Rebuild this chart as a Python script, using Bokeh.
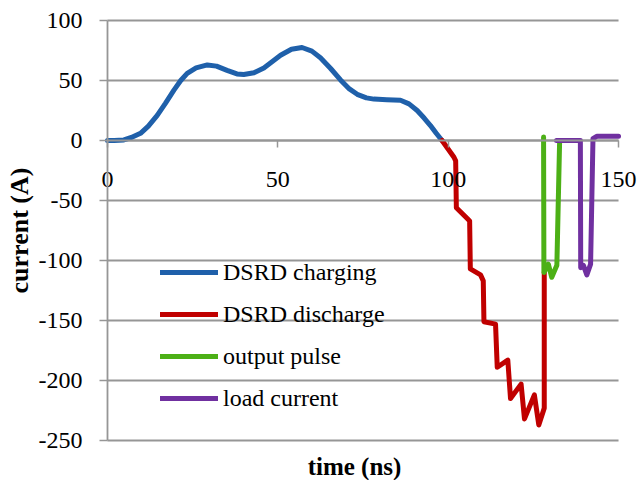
from bokeh.plotting import figure
from bokeh.models import (FixedTicker, Range1d, Legend, LegendItem, Label)
from bokeh.embed import file_html
from bokeh.resources import INLINE

# ---- data ----
t_charge = [0, 2, 4.8, 7, 9.7, 12, 14.6, 17, 19.5, 21.5, 23.4, 26, 29.3, 32, 35.1, 38, 40,
            43, 45.9, 48.5, 50.8, 54, 57.1, 60, 62.5, 65.5, 68.4, 71, 73.3, 76, 78.2, 82,
            86, 88.5, 90.9, 93, 94.8, 96.5, 98.2]
i_charge = [0, 0, 0.5, 2.5, 6, 12, 21, 31, 42, 50, 56, 60.5, 63, 62, 58.5, 55.5, 55,
            56.5, 60.5, 66, 71, 76, 77.5, 74.5, 69, 60, 50.5, 43, 38.5, 35.5, 34.5, 34,
            33.5, 30.5, 25, 18.5, 12.5, 6, 0]

t_discharge = [98.2, 101.7, 102.2, 102.4, 105.6, 106.3, 106.5, 109.5, 110.3, 110.5, 113.9,
               114.4, 117.5, 118.3, 121.4, 122.4, 125.3, 126.6, 128.2, 128.2]
i_discharge = [0, -14, -17, -56, -65, -67, -107, -112, -117, -151, -153,
               -189, -183, -215, -203, -232, -212, -237, -223, -110]

t_output = [128.0, 128.1, 129.4, 130.4, 131.9, 132.7]
i_output = [3, -110, -103, -114, -104, -2]

t_load = [131.8, 138.8, 138.9, 139.7, 140.7, 141.8, 142.5, 143.6, 150]
i_load = [0, 0, -106, -104, -112, -103, 1.5, 3.5, 3.5]

series_names = ["DSRD charging", "DSRD discharge", "output pulse", "load current"]
series_colors = ["#1f60aa", "#c00000", "#4cb016", "#7030a0"]

x_ticks = [0, 50, 100, 150]
y_ticks = [-250, -200, -150, -100, -50, 0, 50, 100]
y_tick_labels = ["-250", "-200", "-150", "-100", "-50", "0", "50", "100"]

FONT = "Liberation Serif"
GRID = "#969696"

# the frame fills the whole canvas; axes sit at x = 0 and y = 0 with bounds
p = figure(width=640, height=480, output_backend="svg", toolbar_location=None,
           x_range=Range1d(-31.4, 156.45), y_range=Range1d(-283.33, 116.67),
           min_border=0, min_border_left=0, min_border_right=0,
           min_border_top=0, min_border_bottom=0)
p.outline_line_color = None
p.background_fill_color = "white"
p.border_fill_color = "white"
p.xgrid.visible = False
p.ygrid.visible = False

# horizontal gridlines between the first and last x tick
p.segment(x0=[x_ticks[0]] * len(y_ticks), x1=[x_ticks[-1]] * len(y_ticks),
          y0=y_ticks, y1=y_ticks, line_color=GRID, line_width=1.8, level="underlay")

xa = p.xaxis[0]
xa.ticker = FixedTicker(ticks=x_ticks)
xa.fixed_location = 0
xa.bounds = (x_ticks[0], x_ticks[-1])
xa.axis_line_color = GRID
xa.axis_line_width = 1.8
xa.major_tick_line_color = GRID
xa.major_tick_line_width = 1.5
xa.major_tick_out = 7
xa.major_tick_in = 0
xa.minor_tick_line_color = None
xa.major_label_standoff = 24
xa.major_label_text_font = FONT
xa.major_label_text_font_size = "24px"
xa.major_label_text_color = "black"

ya = p.yaxis[0]
ya.ticker = FixedTicker(ticks=y_ticks)
ya.major_label_overrides = dict(zip(y_ticks, y_tick_labels))
ya.fixed_location = 0
ya.bounds = (y_ticks[0], y_ticks[-1])
ya.axis_line_color = GRID
ya.axis_line_width = 1.8
ya.major_tick_line_color = GRID
ya.major_tick_line_width = 1.5
ya.major_tick_out = 8
ya.major_tick_in = 0
ya.minor_tick_line_color = None
ya.major_label_standoff = 17
ya.major_label_text_font = FONT
ya.major_label_text_font_size = "24px"
ya.major_label_text_color = "black"
ya.axis_label = "current (A)"
ya.axis_label_text_font = FONT
ya.axis_label_text_font_size = "26px"
ya.axis_label_text_font_style = "bold"
ya.axis_label_text_color = "black"
ya.axis_label_standoff = 2

renderers = []
for t, i, c in zip([t_charge, t_discharge, t_output, t_load],
                   [i_charge, i_discharge, i_output, i_load], series_colors):
    r = p.line(t, i, line_color=c, line_width=5, line_cap="round", line_join="round")
    renderers.append(r)

legend = Legend(items=[LegendItem(label=n, renderers=[r]) for n, r in zip(series_names, renderers)],
                location=(160, 67), orientation="vertical",
                glyph_width=58, glyph_height=30, label_height=30, label_standoff=5,
                spacing=12, padding=0, margin=0,
                background_fill_alpha=0, border_line_color=None,
                label_text_font=FONT, label_text_font_size="24px", label_text_color="black")
p.add_layout(legend, "center")

p.add_layout(Label(x=354, y=14, x_units="screen", y_units="screen", text="time (ns)",
                   text_align="center", text_baseline="middle", text_font=FONT,
                   text_font_size="25px", text_font_style="bold", text_color="black"))

open("out.html", "w").write(file_html(p, INLINE))
